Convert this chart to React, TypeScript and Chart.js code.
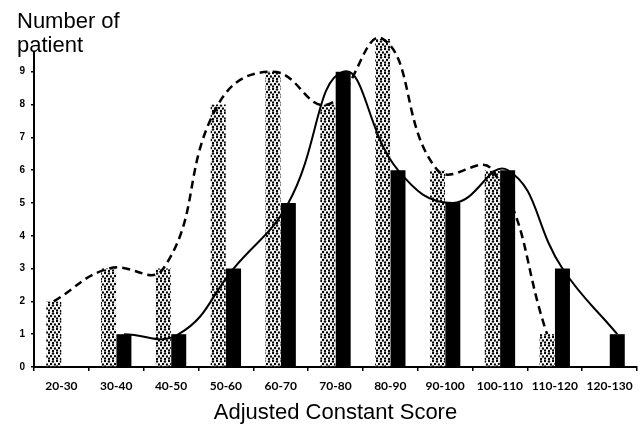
import React, { useEffect, useRef } from 'react';
import { Chart, registerables } from 'chart.js';

Chart.register(...registerables);

// Categories (Adjusted Constant Score bins)
const categories = ['20-30', '30-40', '40-50', '50-60', '60-70', '70-80', '80-90', '90-100', '100-110', '110-120', '120-130'];
// Stippled bars (dashed curve group)
const dottedCounts = [2, 3, 3, 8, 9, 8, 10, 6, 6, 1, 0];
// Black bars (solid curve group)
const solidCounts = [0, 1, 1, 3, 5, 9, 6, 5, 6, 3, 1];
// Smoothed curves: dashed starts at 20-30, solid starts at 30-40
const dashedCurve = [2, 3, 3, 8, 9, 8, 10, 6, 6, 1];
const dashedStart = 0;
const solidCurve = [1, 1, 3, 5, 9, 6, 5, 6, 3, 1];
const solidStart = 1;
const yTickValues = [0, 1, 2, 3, 4, 5, 6, 7, 8, 9];

const FONT = '"Liberation Sans", Arial, sans-serif';
const SHIFT = 0.14; // half a bar, in category units

const hiddenLinear = {
  type: 'linear' as const,
  display: false,
  offset: false,
  grid: { offset: false },
  min: -0.5,
  max: 10.5,
  ticks: { stepSize: 1 },
};

export default function App() {
  const ref = useRef<HTMLCanvasElement>(null);

  useEffect(() => {
    const pc = document.createElement('canvas');
    pc.width = 8;
    pc.height = 8;
    const g = pc.getContext('2d')!;
    g.fillStyle = '#fff';
    g.fillRect(0, 0, 8, 8);
    g.fillStyle = '#000';
    const dots = [[1, 1], [5, 1.5], [3, 4], [7, 4.5], [1, 6.5], [5, 7]];
    dots.forEach(([x, y]) => {
      g.beginPath();
      g.arc(x, y, 1.2, 0, Math.PI * 2);
      g.fill();
    });
    const pattern = g.createPattern(pc, 'repeat')!;

    const titlePlugin = {
      id: 'ytitle',
      afterDraw(chart: any) {
        const ctx = chart.ctx;
        ctx.save();
        ctx.font = `22px ${FONT}`;
        ctx.fillStyle = '#000';
        ctx.textBaseline = 'alphabetic';
        ctx.textAlign = 'left';
        ctx.fillText('Number of', 17, 28);
        ctx.fillText('patient', 17, 52);
        ctx.restore();
      },
    };

    const chart = new Chart(ref.current!, {
      type: 'bar',
      data: {
        labels: categories,
        datasets: [
          {
            type: 'bar',
            label: 'Group A',
            xAxisID: 'xa',
            grouped: false,
            data: dottedCounts.map((v, i) => ({ x: i - SHIFT, y: v })) as any,
            backgroundColor: pattern as any,
            borderWidth: 0,
            categoryPercentage: 1,
            barPercentage: 0.275,
            maxBarThickness: 15,
            clip: false as any,
            order: 2,
          } as any,
          {
            type: 'bar',
            label: 'Group B',
            xAxisID: 'xb',
            grouped: false,
            data: solidCounts.map((v, i) => ({ x: i + SHIFT, y: v })) as any,
            backgroundColor: '#000',
            borderWidth: 0,
            categoryPercentage: 1,
            barPercentage: 0.275,
            maxBarThickness: 15,
            clip: false as any,
            order: 2,
          } as any,
          {
            type: 'line',
            label: 'Group A curve',
            xAxisID: 'x2',
            data: dashedCurve.map((v, i) => ({ x: dashedStart + i - SHIFT, y: v })) as any,
            borderColor: '#000',
            borderWidth: 2.5,
            borderDash: [8, 5],
            pointRadius: 0,
            tension: 0.45,
            fill: false,
            clip: false as any,
            order: 1,
          } as any,
          {
            type: 'line',
            label: 'Group B curve',
            xAxisID: 'x2',
            data: solidCurve.map((v, i) => ({ x: solidStart + i + SHIFT, y: v })) as any,
            borderColor: '#000',
            borderWidth: 2,
            pointRadius: 0,
            tension: 0.45,
            fill: false,
            clip: false as any,
            order: 1,
          } as any,
        ],
      },
      options: {
        animation: false,
        responsive: false,
        devicePixelRatio: 1,
        layout: { padding: { top: 52, right: 5, left: 0, bottom: 0 } },
        plugins: {
          legend: { display: false },
          tooltip: { enabled: false },
          title: { display: false },
        },
        scales: {
          x: {
            type: 'category',
            offset: true,
            grid: {
              offset: true,
              drawOnChartArea: false,
              drawTicks: true,
              tickLength: 4,
              color: '#000',
              lineWidth: 1.5,
            },
            border: { color: '#000', width: 2 },
            ticks: {
              color: '#000',
              font: { family: 'Lato, "Open Sans", sans-serif', size: 12, weight: 'bold' },
              padding: 8,
              maxRotation: 0,
              autoSkip: false,
            },
            title: {
              display: true,
              text: 'Adjusted Constant Score',
              color: '#000',
              font: { family: FONT, size: 22 },
              padding: { top: 0, bottom: 3 },
            },
            afterFit(scale: any) {
              scale.height = 62;
            },
          },
          xa: { ...hiddenLinear },
          xb: { ...hiddenLinear },
          x2: { ...hiddenLinear },
          y: {
            min: 0,
            max: 9.6,
            afterBuildTicks(scale: any) {
              scale.ticks = yTickValues.map((v) => ({ value: v }));
            },
            grid: {
              drawOnChartArea: false,
              drawTicks: true,
              tickLength: 3,
              color: '#000',
              lineWidth: 1.5,
            },
            border: { color: '#000', width: 2 },
            ticks: {
              color: '#000',
              font: { family: FONT, size: 10, weight: 'bold' },
              padding: 6,
              stepSize: 1,
            },
            afterFit(scale: any) {
              scale.width = 34;
            },
          },
        } as any,
      },
      plugins: [titlePlugin],
    });

    return () => chart.destroy();
  }, []);

  return (
    <div style={{ position: 'fixed', left: 0, top: 0, width: 642, height: 429, background: '#fff' }}>
      <canvas ref={ref} width={642} height={429} style={{ display: 'block' }} />
    </div>
  );
}
